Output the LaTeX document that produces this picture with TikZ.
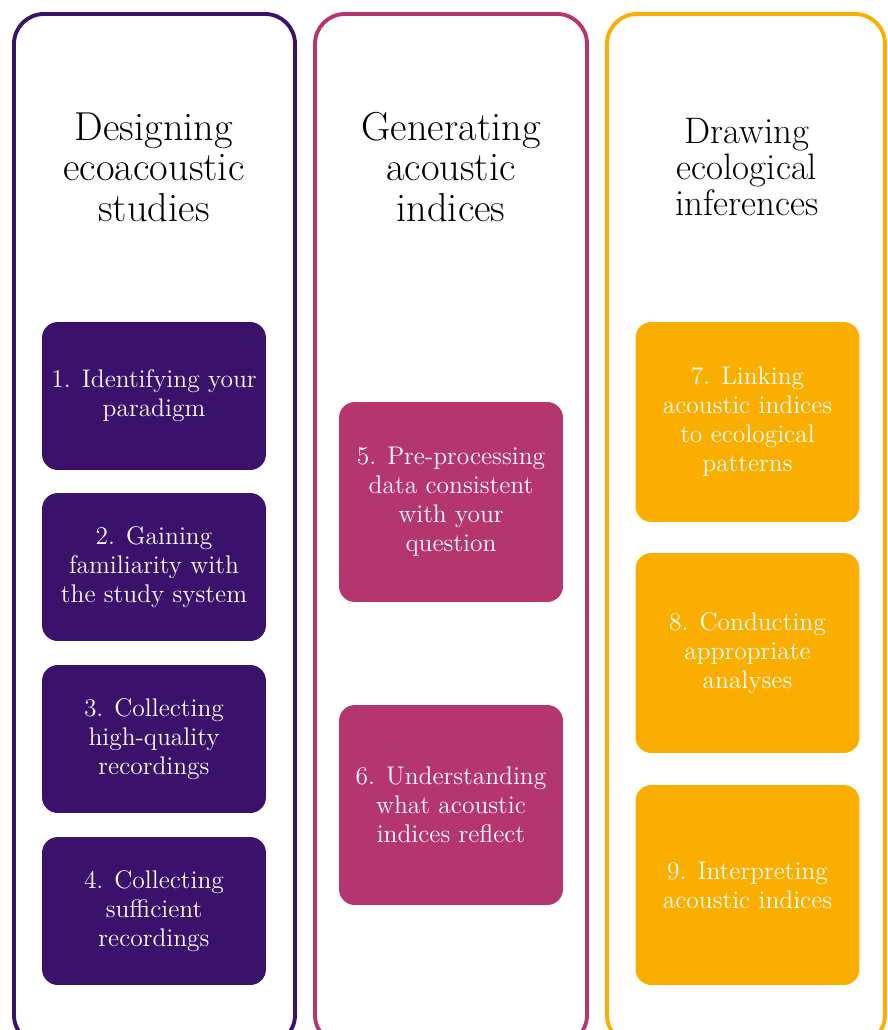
\documentclass[tikz,border=0pt]{standalone}
\usetikzlibrary{positioning}

\definecolor{plum}{HTML}{3B116B}
\definecolor{berry}{HTML}{B5366F}
\definecolor{amber}{HTML}{F9AE00}

\begin{document}
\begin{tikzpicture}[x=0.02cm, y=-0.02cm,
    lane/.style={draw=#1, line width=2.2pt, rounded corners=17pt},
    heading/.style={align=center, text=black, font=\fontsize{23}{23}\selectfont},
    stepbox/.style={fill=#1, rounded corners=9pt, text=white, align=center,
        minimum width=4.48cm, minimum height=2.96cm, inner sep=0pt,
        font=\fontsize{14.5}{16.5}\selectfont},
    tallbox/.style={stepbox=#1, minimum height=4cm}]

    \useasboundingbox (0, 0) rectangle (888, 1030);
    \clip (0, 0) rectangle (888, 1030);

    \draw[lane=plum] (14, 14) rectangle (295, 1045);
    \draw[lane=berry] (315, 14) rectangle (587, 1045);
    \draw[lane=amber] (607, 14) rectangle (885, 1045);

    \node[heading] (design) at (154, 167) {Designing\\ecoacoustic\\studies};
    \node[heading] (generate) at (451, 167) {Generating\\acoustic\\indices};
    \node[heading, font=\fontsize{21}{20.7}\selectfont] (infer) at (747, 167)
        {Drawing\\ecological\\inferences};

    \node[stepbox=plum] (s1) at (154, 396) {1. Identifying your\\paradigm};
    \node[stepbox=plum] (s2) at (154, 567) {2. Gaining\\familiarity with\\the study system};
    \node[stepbox=plum] (s3) at (154, 739) {3. Collecting\\high-quality\\recordings};
    \node[stepbox=plum] (s4) at (154, 911) {4. Collecting\\sufficient\\recordings};

    \node[tallbox=berry] (s5) at (451, 502)
        {5. Pre-processing\\data consistent\\with your\\question};
    \node[tallbox=berry] (s6) at (451, 805)
        {6. Understanding\\what acoustic\\indices reflect};

    \node[tallbox=amber] (s7) at (747.5, 422)
        {7. Linking\\acoustic indices\\to ecological\\patterns};
    \node[tallbox=amber] (s8) at (747.5, 653) {8. Conducting\\appropriate\\analyses};
    \node[tallbox=amber] (s9) at (747.5, 885) {9. Interpreting\\acoustic indices};
\end{tikzpicture}
\end{document}
